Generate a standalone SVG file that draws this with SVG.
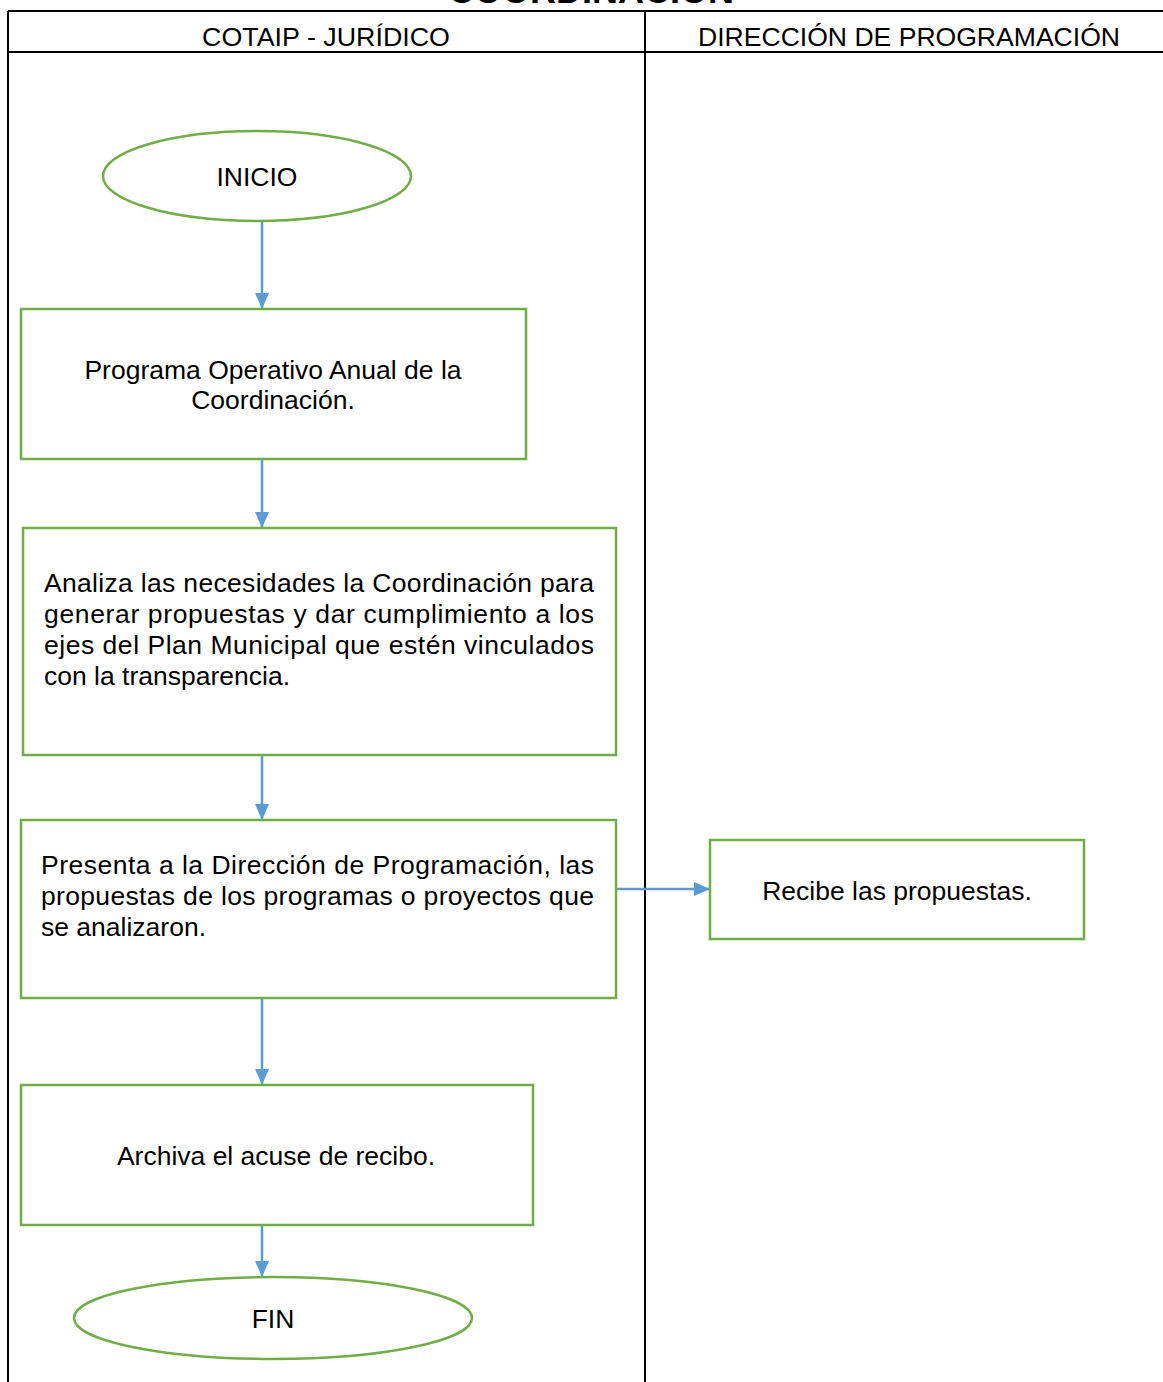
<svg xmlns="http://www.w3.org/2000/svg" width="1163" height="1382" viewBox="0 0 1163 1382">
<style>
text{font-family:"Liberation Sans",Arial,sans-serif;fill:#000}
.t{font-size:26.5px}
.h{font-size:26px}
.node{fill:#fff;stroke:#70AD47;stroke-width:2.5}
.grid{stroke:#000;stroke-width:2;fill:none}
.conn{stroke:#5B9BD5;stroke-width:2.5;fill:none}
</style>
<defs>
<marker id="arr" markerWidth="16" markerHeight="14" refX="16" refY="7" orient="auto" markerUnits="userSpaceOnUse" viewBox="0 0 16 14">
<path d="M0,0 L16,7 L0,14 z" fill="#5B9BD5"/>
</marker>
</defs>
<rect width="1163" height="1382" fill="#fff"/>
<g id="title">
<text x="591" y="3" font-size="36" font-weight="bold" text-anchor="middle">COORDINACIÓN</text>
</g>
<g id="lanes">
<path class="grid" d="M8,11 H1163 M8,52 H1163 M8,11 V1382 M645,11 V1382"/>
<text class="h" x="202" y="46" textLength="248" lengthAdjust="spacingAndGlyphs">COTAIP - JURÍDICO</text>
<text class="h" x="698" y="46" textLength="422" lengthAdjust="spacingAndGlyphs">DIRECCIÓN DE PROGRAMACIÓN</text>
</g>
<g id="connectors">
<line class="conn" x1="262" y1="221" x2="262" y2="309" marker-end="url(#arr)"/>
<line class="conn" x1="262" y1="459" x2="262" y2="528" marker-end="url(#arr)"/>
<line class="conn" x1="262" y1="755" x2="262" y2="820" marker-end="url(#arr)"/>
<line class="conn" x1="616" y1="889" x2="710" y2="889" marker-end="url(#arr)"/>
<line class="conn" x1="262" y1="998" x2="262" y2="1085" marker-end="url(#arr)"/>
<line class="conn" x1="262" y1="1225" x2="262" y2="1277" marker-end="url(#arr)"/>
</g>
<g id="inicio">
<ellipse class="node" cx="257" cy="176" rx="154" ry="45"/>
<text class="t" x="257" y="186" text-anchor="middle">INICIO</text>
</g>
<g id="programa">
<rect class="node" x="21" y="309" width="505" height="150"/>
<text class="t" x="273" y="379" text-anchor="middle">Programa Operativo Anual de la</text>
<text class="t" x="273" y="409" text-anchor="middle">Coordinación.</text>
</g>
<g id="analiza">
<rect class="node" x="23" y="528" width="593" height="227"/>
<text class="t" x="44" y="592" textLength="550" lengthAdjust="spacing">Analiza las necesidades la Coordinación para</text>
<text class="t" x="44" y="623" textLength="550" lengthAdjust="spacing">generar propuestas y dar cumplimiento a los</text>
<text class="t" x="44" y="654" textLength="550" lengthAdjust="spacing">ejes del Plan Municipal que estén vinculados</text>
<text class="t" x="44" y="685">con la transparencia.</text>
</g>
<g id="presenta">
<rect class="node" x="21" y="820" width="595" height="178"/>
<text class="t" x="41" y="874" textLength="553" lengthAdjust="spacing">Presenta a la Dirección de Programación, las</text>
<text class="t" x="41" y="905" textLength="553" lengthAdjust="spacing">propuestas de los programas o proyectos que</text>
<text class="t" x="41" y="936">se analizaron.</text>
</g>
<g id="recibe">
<rect class="node" x="710" y="840" width="374" height="99"/>
<text class="t" x="897" y="900" text-anchor="middle">Recibe las propuestas.</text>
</g>
<g id="archiva">
<rect class="node" x="21" y="1085" width="512" height="140"/>
<text class="t" x="276" y="1165" text-anchor="middle">Archiva el acuse de recibo.</text>
</g>
<g id="fin">
<ellipse class="node" cx="273" cy="1318" rx="199" ry="41"/>
<text class="t" x="273" y="1328" text-anchor="middle">FIN</text>
</g>
</svg>
